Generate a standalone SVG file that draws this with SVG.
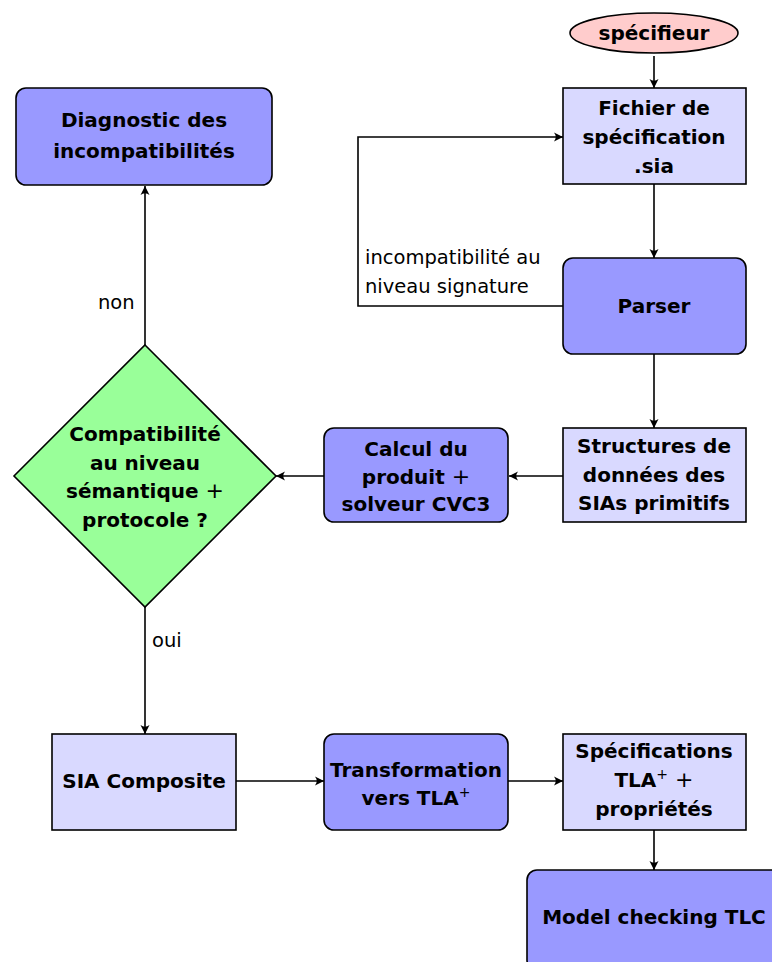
<svg xmlns="http://www.w3.org/2000/svg" width="772" height="962" viewBox="0 0 772 962">
<defs>
<marker id="arr" viewBox="-10 -6 12 12" markerWidth="12" markerHeight="12" refX="0" refY="0" orient="auto" markerUnits="userSpaceOnUse">
<path d="M0,0 L-9,-4.5 Q-5.5,0 -9,4.5 Z" fill="#000"/>
</marker>
<style>
.n{font-family:"DejaVu Sans","Liberation Sans",sans-serif;font-weight:bold;font-size:20px;fill:#000;text-anchor:middle}
.l{font-family:"DejaVu Sans","Liberation Sans",sans-serif;font-size:19.5px;fill:#000}
.light{fill:#d9d9ff;stroke:#000;stroke-width:1.6}
.dark{fill:#9999ff;stroke:#000;stroke-width:1.6}
.c{fill:none;stroke:#000;stroke-width:1.6;marker-end:url(#arr)}
.sup{font-size:14px;font-weight:normal}
.pl{font-weight:normal;font-size:22px}
</style>
</defs>
<rect width="772" height="962" fill="#fff"/>
<g id="connectors">
<path class="c" d="M654,56 V88"/>
<path class="c" d="M654,184 V258"/>
<path class="c" d="M563,306 H358 V137 H563"/>
<path class="c" d="M654,354 V428"/>
<path class="c" d="M563,476 H509"/>
<path class="c" d="M324,476 H276"/>
<path class="c" d="M145,345 V186"/>
<path class="c" d="M145,607 V734"/>
<path class="c" d="M236,781 H324"/>
<path class="c" d="M508,781 H563"/>
<path class="c" d="M654,830 V870"/>
<text class="l" x="365" y="264">incompatibilité au</text>
<text class="l" x="365" y="293">niveau signature</text>
<text class="l" x="98" y="309">non</text>
<text class="l" x="152" y="647">oui</text>
</g>
<g id="specifieur">
<ellipse cx="654" cy="33" rx="84" ry="20" fill="#ffcccc" stroke="#000" stroke-width="1.6"/>
<text class="n" x="654" y="40">spécifieur</text>
</g>
<g id="fichier">
<rect class="light" x="563" y="88" width="183" height="96"/>
<text class="n" x="654" y="115">Fichier de</text>
<text class="n" x="654" y="144">spécification</text>
<text class="n" x="654" y="173">.sia</text>
</g>
<g id="parser">
<rect class="dark" x="563" y="258" width="183" height="96" rx="10"/>
<text class="n" x="654" y="313">Parser</text>
</g>
<g id="structures">
<rect class="light" x="563" y="428" width="183" height="94"/>
<text class="n" x="654" y="453">Structures de</text>
<text class="n" x="654" y="482">données des</text>
<text class="n" x="654" y="510">SIAs primitifs</text>
</g>
<g id="calcul">
<rect class="dark" x="324" y="428" width="184" height="94" rx="10"/>
<text class="n" x="416" y="456">Calcul du</text>
<text class="n" x="416" y="484">produit <tspan class="pl">+</tspan></text>
<text class="n" x="416" y="511">solveur CVC3</text>
</g>
<g id="compatibilite">
<polygon points="145,345 276,476 145,607 14,476" fill="#99ff99" stroke="#000" stroke-width="1.6"/>
<text class="n" x="145" y="441">Compatibilité</text>
<text class="n" x="145" y="470">au niveau</text>
<text class="n" x="145" y="498">sémantique <tspan class="pl">+</tspan></text>
<text class="n" x="145" y="527">protocole ?</text>
</g>
<g id="diagnostic">
<rect class="dark" x="16" y="88" width="256" height="97" rx="10"/>
<text class="n" x="144" y="127">Diagnostic des</text>
<text class="n" x="144" y="158">incompatibilités</text>
</g>
<g id="sia-composite">
<rect class="light" x="52" y="734" width="184" height="96"/>
<text class="n" x="144" y="788">SIA Composite</text>
</g>
<g id="transformation">
<rect class="dark" x="324" y="734" width="184" height="96" rx="10"/>
<text class="n" x="416" y="777">Transformation</text>
<text class="n" x="416" y="805">vers TLA<tspan class="sup" dy="-8">+</tspan></text>
</g>
<g id="specifications">
<rect class="light" x="563" y="734" width="183" height="96"/>
<text class="n" x="654" y="758">Spécifications</text>
<text class="n" x="654" y="787">TLA<tspan class="sup" dy="-8">+</tspan><tspan class="pl" dy="8"> +</tspan></text>
<text class="n" x="654" y="816">propriétés</text>
</g>
<g id="model-checking">
<rect class="dark" x="527" y="870" width="254" height="100" rx="10"/>
<text class="n" x="654" y="924">Model checking TLC</text>
</g>
</svg>
